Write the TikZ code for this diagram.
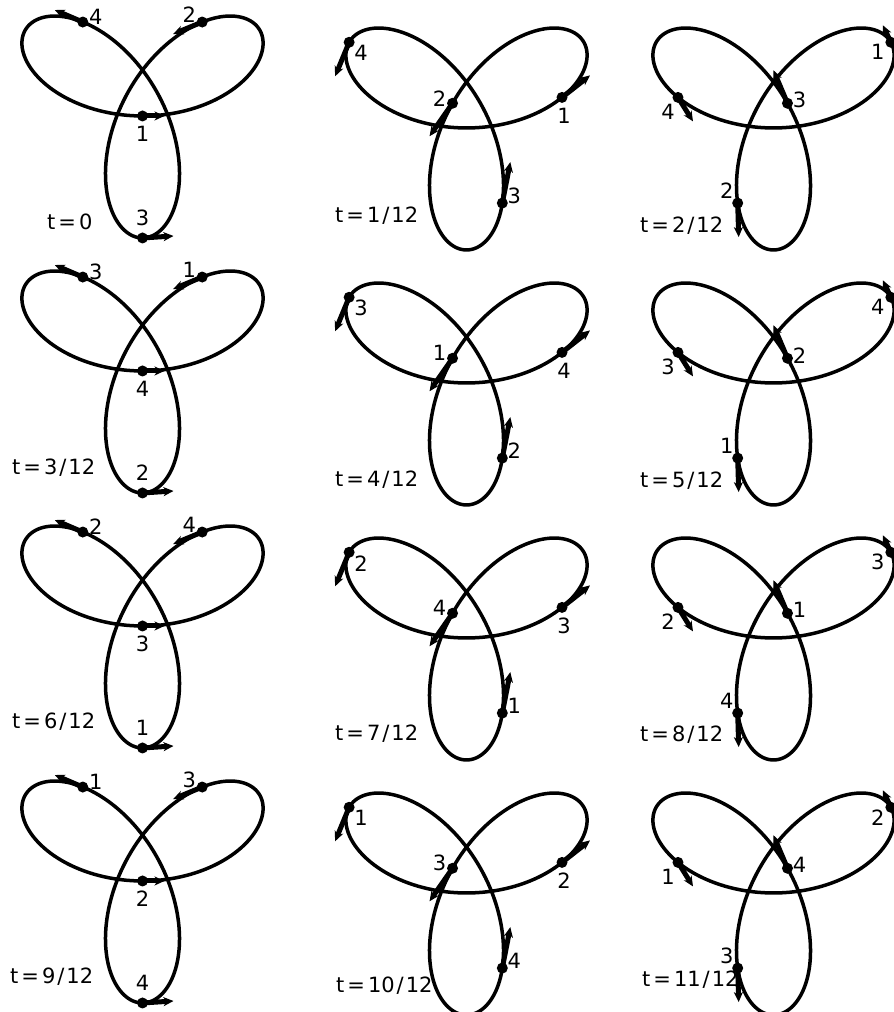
\documentclass[tikz,border=0pt]{standalone}
\usepackage{fontspec}
\setmainfont{DejaVu Sans}
\usetikzlibrary{arrows.meta}
\begin{document}
\begin{tikzpicture}[x=1pt,y=-1pt,
  curve/.style={line width=3.5pt, line join=round},
  vel/.style={line width=5pt, -{Stealth[length=10pt,width=9pt,inset=3pt]}},
  body/.style={circle, fill, inner sep=0pt, minimum size=11pt},
  lab/.style={font=\fontsize{21}{24}\selectfont, inner sep=0pt},
  tlab/.style={font=\fontsize{21}{24}\selectfont, inner sep=0pt, anchor=base west}]
\useasboundingbox (0,0) rectangle (894,1012);
\foreach \p/\tx/\ty in {0/47/229,1/335/222,2/640/232,3/12/474,4/335/486,5/640/487,6/12/728,7/335/740,8/640/741,9/10/983,10/336/992,11/642/986}{
  \pgfmathtruncatemacro\row{int(\p/3)}
  \pgfmathtruncatemacro\col{mod(\p,3)}
  \pgfmathsetmacro\dx{{0,324,631}[\col]}
  \pgfmathsetmacro\dy{255*\row+(\col>0)*12}
  \begin{scope}[shift={(\dx,\dy)}]
    \draw[curve] plot[domain=0:360,samples=241]
      ({142.5+59.7*(sin(\x)-1.27*sin(2*\x))},{99.5+61*(cos(\x)+1.27*cos(2*\x))});
    \foreach \j in {1,...,4}{
      \pgfmathtruncatemacro\k{mod(\p+3*(\j-1),12)}
      \pgfmathsetmacro\th{180-30*\k}
      \pgfmathsetmacro\px{142.5+59.7*(sin(\th)-1.27*sin(2*\th))}
      \pgfmathsetmacro\py{99.5+61*(cos(\th)+1.27*cos(2*\th))}
      \pgfmathsetmacro\vx{\px+{22,28,-8,-29,-23,1,31,8,-14,-28,-14,15}[\k]}
      \pgfmathsetmacro\vy{\py+{0,-22,-17,12,33,34,-2,-41,-33,-12,34,24}[\k]}
      \pgfmathsetmacro\lx{\px+{0,2,-13,-13,-13,-11,0,12,12,13,12,-10}[\k]}
      \pgfmathsetmacro\ly{\py+{18,18,10,-7,-5,-12,-20,-7,-3,-5,11,14}[\k]}
      \node[body] (b\p-\j) at (\px,\py) {};
      \coordinate (v\p-\j) at (\vx,\vy);
      \draw[vel] (b\p-\j.center) -- (v\p-\j);
      \node[lab] (l\p-\j) at (\lx,\ly) {\j};
    }
  \end{scope}
  \node[tlab] (t\p) at (\tx,\ty) {\ifnum\p=0 t\kern3pt=\kern3pt0\else t\kern3pt=\kern3pt\p\kern2pt/\kern2pt12\fi};
}
\end{tikzpicture}
\end{document}
